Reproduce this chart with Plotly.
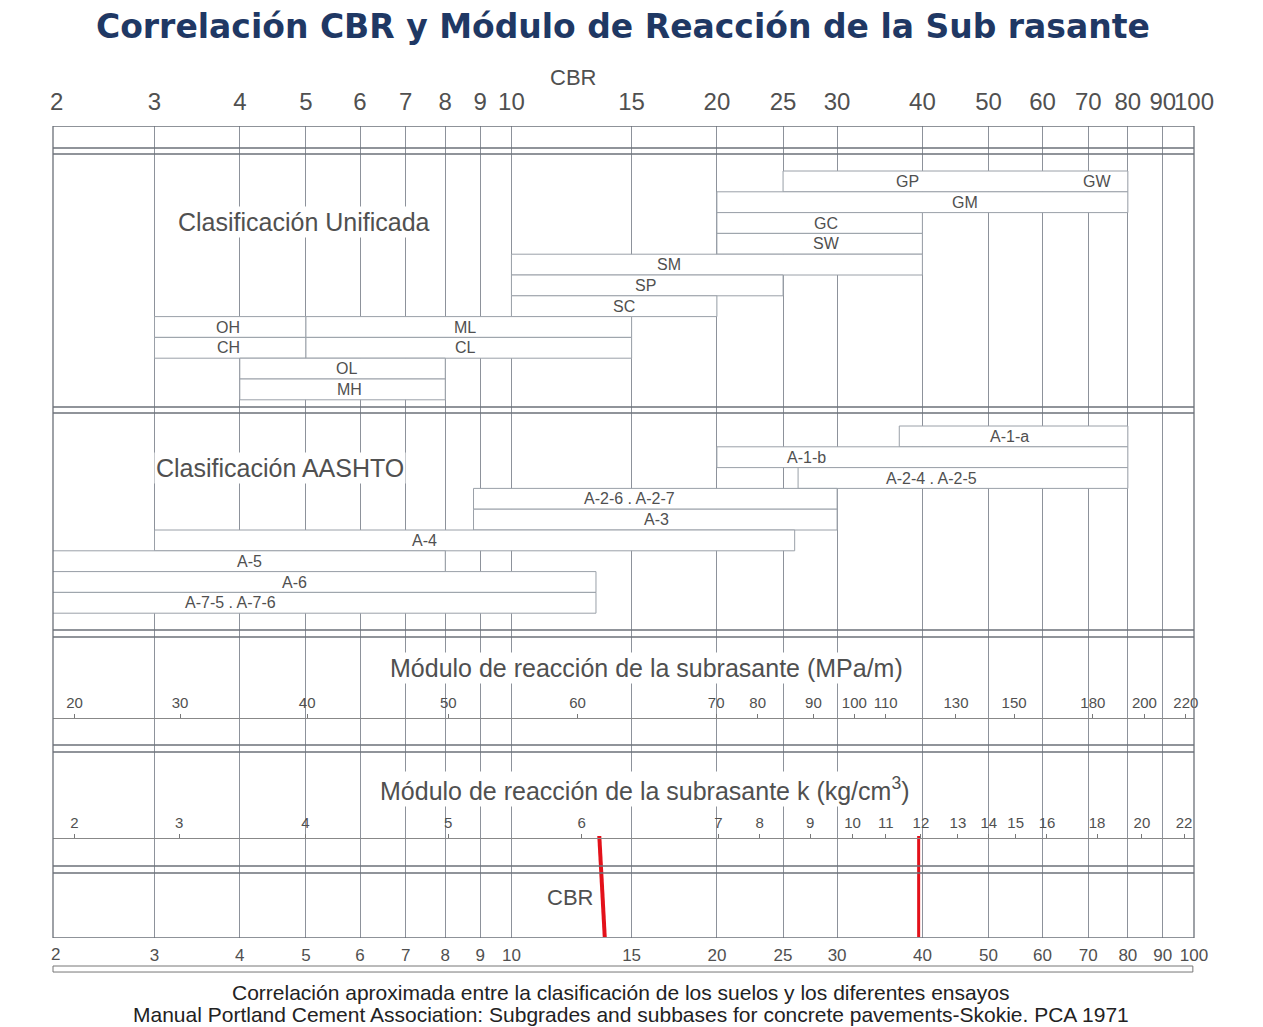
import numpy as np
import plotly.graph_objects as go

# CBR scale (top and bottom of the chart)
cbr_ticks = [2, 3, 4, 5, 6, 7, 8, 9, 10, 15, 20, 25, 30, 40, 50, 60, 70, 80, 90, 100]

# Módulo de reacción (MPa/m) and the CBR value each tick sits on
mpa_labels = [20, 30, 40, 50, 60, 70, 80, 90, 100, 110, 130, 150, 180, 200, 220]
mpa_at_cbr = [2.29, 3.27, 5.02, 8.08, 12.5, 19.95, 22.95, 27.7, 31.8, 35.35, 44.8, 54.5, 71.1, 84.6, 97.3]

# Módulo de reacción k (kg/cm3) and the CBR value each tick sits on
k_labels = [2, 3, 4, 5, 6, 7, 8, 9, 10, 11, 12, 13, 14, 15, 16, 18, 20, 22]
k_at_cbr = [2.29, 3.26, 4.99, 8.08, 12.67, 20.1, 23.1, 27.4, 31.6, 35.35, 39.8, 45.1, 50.05, 54.8, 60.9, 72.1, 83.9, 96.7]

# Clasificación Unificada: CBR range of each box and its row
uscs_from = [25, 20, 20, 20, 10, 10, 10, 3, 5, 3, 5, 4, 4]
uscs_to = [80, 80, 40, 40, 40, 25, 20, 5, 15, 5, 15, 8, 8]
uscs_row = [0, 1, 2, 3, 4, 5, 6, 7, 7, 8, 8, 9, 10]
# soil group names written inside the boxes
uscs_names = ["GP", "GW", "GM", "GC", "SW", "SM", "SP", "SC", "OH", "ML", "CH", "CL", "OL", "MH"]
uscs_name_row = [0, 0, 1, 2, 3, 4, 5, 6, 7, 7, 8, 8, 9, 10]
uscs_name_cbr = [38.1, 72.1, 46.2, 28.9, 28.9, 17.0, 15.7, 14.6, 3.85, 8.56, 3.85, 8.56, 5.73, 5.79]

# Clasificación AASHTO
aashto_names = ["A-1-a", "A-1-b", "A-2-4 . A-2-5", "A-2-6 . A-2-7", "A-3", "A-4", "A-5", "A-6", "A-7-5 . A-7-6"]
aashto_from = [37, 20, 26.3, 8.8, 8.8, 3, 2, 2, 2]
aashto_to = [80, 80, 80, 30, 30, 26, 8, 13.3, 13.3]
aashto_name_cbr = [53.7, 27.1, 41.3, 14.9, 16.3, 7.45, 4.13, 4.81, 3.88]

# red marks drawn over the CBR scale
red_top_cbr = [13.45, 39.5]
red_bottom_cbr = [13.7, 39.5]

# layout geometry (y in px from the top of the frame)
ROW_H = 20.8
USCS_TOP = 45
AASHTO_TOP = 300
FRAME_H = 812
XRANGE = [np.log10(2.13), 2]
GRID = "#8d929b"
BOX = "#9aa0a8"
TXT = "#505050"
FONT = "Liberation Sans, Arial, sans-serif"

fig = go.Figure()


def add_box(x0, x1, top):
    fig.add_trace(go.Scatter(
        x=[x0, x1, x1, x0, x0],
        y=[top, top, top + ROW_H, top + ROW_H, top],
        mode="lines", fill="toself", fillcolor="white",
        line=dict(color=BOX, width=1),
        hoverinfo="skip", showlegend=False,
    ))


for a, b, r in zip(uscs_from, uscs_to, uscs_row):
    add_box(a, b, USCS_TOP + r * ROW_H)
for r, (a, b) in enumerate(zip(aashto_from, aashto_to)):
    add_box(a, b, AASHTO_TOP + r * ROW_H)

# empty traces so the extra scales (MPa/m, k, bottom CBR) get drawn
for ax, vals in [("x2", mpa_at_cbr), ("x3", k_at_cbr), ("x4", cbr_ticks)]:
    fig.add_trace(go.Scatter(x=vals, y=[None] * len(vals), xaxis=ax, yaxis="y",
                             mode="markers", hoverinfo="skip", showlegend=False))

bar_font = dict(size=16, color=TXT, family=FONT)
annotations = []
for name, c, r in zip(uscs_names, uscs_name_cbr, uscs_name_row):
    annotations.append(dict(x=np.log10(c), y=USCS_TOP + r * ROW_H + ROW_H / 2, xref="x", yref="y",
                            text=name, showarrow=False, font=bar_font))
for r, (name, c) in enumerate(zip(aashto_names, aashto_name_cbr)):
    annotations.append(dict(x=np.log10(c), y=AASHTO_TOP + r * ROW_H + ROW_H / 2, xref="x", yref="y",
                            text=name, showarrow=False, font=bar_font))

# red lines
for t, b, w in zip(red_top_cbr, red_bottom_cbr, [4, 3]):
    fig.add_trace(go.Scatter(x=[t, b], y=[710, 811], mode="lines",
                             line=dict(color="#e3111a", width=w),
                             hoverinfo="skip", showlegend=False))


def note(x, y, text, size, yref="paper", color=TXT, bg=None):
    d = dict(x=x, y=y, xref="paper", yref=yref, text=text, showarrow=False,
             xanchor="center", yanchor="middle", font=dict(size=size, color=color, family=FONT))
    if bg:
        d["bgcolor"] = bg
    return d


annotations += [
    note(0.22, 96, "Clasificación Unificada", 25, yref="y", bg="white"),
    note(0.199, 342, "Clasificación AASHTO", 25, yref="y", bg="white"),
    note(0.52, 542, "Módulo de reacción de la subrasante (MPa/m)", 25, yref="y", bg="white"),
    note(0.518, 663, "Módulo de reacción de la subrasante k (kg/cm<sup>3</sup>)", 25, yref="y", bg="white"),
    note(0.453, 771, "CBR", 22, yref="y"),
    note(0.4557, 1.0603, "CBR", 22),
    # "2" at the left edge of both CBR scales
    note(0.0035, 1.0296, "2", 24),
    note(0.002, -0.0209, "2", 17),
    # footer
    note(0.497, -0.0677,
         "Correlación aproximada entre la clasificación de los suelos y los diferentes ensayos", 21, color="#222"),
    note(0.507, -0.0948,
         "Manual Portland Cement Association: Subgrades and subbases for concrete pavements-Skokie. PCA 1971",
         21, color="#222"),
]

# structural horizontal lines
shapes = [dict(type="rect", xref="paper", yref="y", x0=0, x1=1, y0=0, y1=FRAME_H,
               line=dict(color="#6b7078", width=1.3), layer="above")]
for yy in [22, 28, 281, 287, 504, 511, 619, 626, 740, 747]:
    shapes.append(dict(type="line", xref="paper", yref="y", x0=0, x1=1, y0=yy, y1=yy,
                       line=dict(color="#6b7078", width=1.4), layer="above"))
# white bands behind the MPa and k tick labels
for y0, y1 in [(566, 587), (684, 705)]:
    shapes.append(dict(type="rect", xref="paper", yref="y", x0=0, x1=1, y0=y0, y1=y1,
                       fillcolor="white", line=dict(width=0), layer="between"))
# thin bar under the bottom scale
shapes.append(dict(type="rect", xref="paper", yref="paper", x0=0, x1=0.999, y0=-0.0345, y1=-0.0419,
                   fillcolor="white", line=dict(color="#777", width=1)))

tick_font = dict(family=FONT, color=TXT)

# the page body adds 8px around the figure, so the margins are shifted by 8px
fig.update_layout(
    width=1255, height=1019,
    margin=dict(l=45, r=69, t=118, b=89),
    paper_bgcolor="white", plot_bgcolor="white",
    showlegend=False,
    title=dict(text="<b>Correlación CBR y Módulo de Reacción de la Sub rasante</b>",
               x=0.490, xanchor="center", y=0.9823, yanchor="middle",
               font=dict(family="DejaVu Sans", size=33, color="#1f3864")),
    xaxis=dict(type="log", range=XRANGE, side="top", tickmode="array",
               tickvals=cbr_ticks, ticktext=[str(v) for v in cbr_ticks], tickangle=0,
               tickfont=dict(size=24, **tick_font), ticks="", ticklabelstandoff=10,
               showgrid=True, gridcolor=GRID, gridwidth=1, zeroline=False, showline=False,
               fixedrange=True),
    xaxis2=dict(type="log", range=XRANGE, overlaying="x", anchor="free", position=(938 - 718) / 812,
                side="top", tickmode="array", tickvals=mpa_at_cbr, ticktext=[str(v) for v in mpa_labels],
                tickangle=0, tickfont=dict(size=15, **tick_font), ticks="outside", ticklen=4,
                tickcolor="#777", showline=True, linecolor="#888", linewidth=1, showgrid=False,
                zeroline=False, fixedrange=True),
    xaxis3=dict(type="log", range=XRANGE, overlaying="x", anchor="free", position=(938 - 838) / 812,
                side="top", tickmode="array", tickvals=k_at_cbr, ticktext=[str(v) for v in k_labels],
                tickangle=0, tickfont=dict(size=15, **tick_font), ticks="outside", ticklen=4,
                tickcolor="#777", showline=True, linecolor="#888", linewidth=1, showgrid=False,
                zeroline=False, fixedrange=True),
    xaxis4=dict(type="log", range=XRANGE, overlaying="x", anchor="y", side="bottom",
                tickmode="array", tickvals=cbr_ticks, ticktext=[str(v) for v in cbr_ticks],
                tickangle=0, tickfont=dict(size=17, **tick_font), ticks="", ticklabelstandoff=5,
                showgrid=False, zeroline=False, showline=False, fixedrange=True),
    yaxis=dict(range=[FRAME_H, 0], visible=False, fixedrange=True),
    annotations=annotations,
    shapes=shapes,
)

fig.write_html("out.html")
